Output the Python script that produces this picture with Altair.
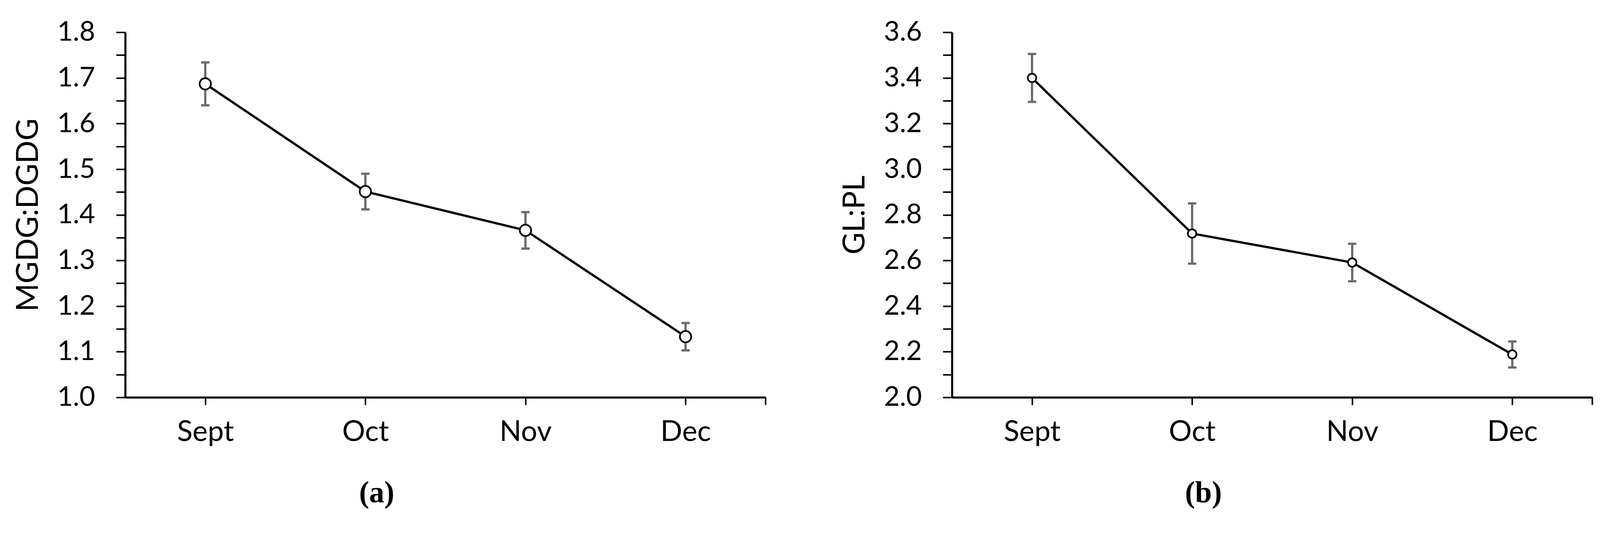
import altair as alt
import pandas as pd

months = ["Sept", "Oct", "Nov", "Dec"]
mgdg_mean = [1.687, 1.451, 1.366, 1.133]
mgdg_err = [0.047, 0.039, 0.040, 0.030]
glpl_mean = [3.400, 2.718, 2.591, 2.188]
glpl_err = [0.105, 0.132, 0.082, 0.057]

mgdg_ticks = [round(1.0 + 0.05 * i, 2) for i in range(17)]
glpl_ticks = [round(2.0 + 0.1 * i, 1) for i in range(17)]

W, H = 1694, 965
GRAY = "#6b6b6b"


def panel(mean, err, ytitle, ydomain, yvalues, label_expr, letter, pt_size):
    df = pd.DataFrame({
        "month": months,
        "mean": mean,
        "lo": [m - e for m, e in zip(mean, err)],
        "hi": [m + e for m, e in zip(mean, err)],
    })
    xenc = alt.X(
        "month:N", sort=months,
        scale=alt.Scale(type="point", padding=0.5),
        axis=alt.Axis(title=None, labelAngle=0, labelFontSize=76, tickSize=20,
                      tickWidth=4, domainWidth=5.5, labelPadding=35, grid=False,
                      labelFont="Lato", labelColor="black", domainColor="black",
                      tickColor="black"),
    )
    yscale = alt.Scale(domain=ydomain, nice=False, zero=False)
    yaxis = alt.Axis(values=yvalues, labelExpr=label_expr, title=ytitle,
                     labelFontSize=72, titleFontSize=80, tickSize=24, tickWidth=4,
                     domainWidth=5.5, labelPadding=56, titlePadding=34,
                     titleFontWeight="normal", grid=False,
                     labelFont="Lato", titleFont="Lato", labelColor="black",
                     titleColor="black", domainColor="black", tickColor="black")

    def y(field):
        return alt.Y(field, type="quantitative", scale=yscale, axis=yaxis)

    base = alt.Chart(df)
    stems = base.mark_rule(color=GRAY, strokeWidth=6).encode(x=xenc, y=y("lo"), y2="hi:Q")
    cap_lo = base.mark_tick(color=GRAY, size=22, thickness=6, opacity=1).encode(x=xenc, y=y("lo"))
    cap_hi = base.mark_tick(color=GRAY, size=22, thickness=6, opacity=1).encode(x=xenc, y=y("hi"))
    line = base.mark_line(color="black", strokeWidth=6).encode(x=xenc, y=y("mean"))
    pts = base.mark_point(shape="circle", filled=False, fill="white", fillOpacity=1,
                          stroke="black", strokeWidth=4.5, size=pt_size, opacity=1).encode(
        x=xenc, y=y("mean"))
    end_tick = alt.Chart(pd.DataFrame({"k": [0]})).mark_rule(
        color="black", strokeWidth=4).encode(
        x=alt.value(W), y=alt.value(H), y2=alt.value(H + 20))
    return alt.layer(stems, cap_lo, cap_hi, line, pts, end_tick).properties(
        width=W, height=H,
        title=alt.TitleParams(text=letter, orient="bottom", anchor="middle",
                              frame="bounds", font="Liberation Serif", fontSize=80,
                              fontWeight="bold", offset=85, dx=-35, color="black"),
    )


left = panel(mgdg_mean, mgdg_err, "MGDG:DGDG", [1.0, 1.8], mgdg_ticks,
             "round(datum.value * 20) % 2 == 0 ? format(datum.value, '.1f') : ''",
             "(a)", 900)
right = panel(glpl_mean, glpl_err, "GL:PL", [2.0, 3.6], glpl_ticks,
              "round(datum.value * 10) % 2 == 0 ? format(datum.value, '.1f') : ''",
              "(b)", 500)

chart = alt.hconcat(left, right, spacing=195).properties(
    padding={"left": 27, "top": 19, "right": 10, "bottom": 10},
    background="white",
).configure_axis(
    labelFont="Lato", titleFont="Lato", labelColor="black", titleColor="black",
    domainColor="black", tickColor="black", grid=False,
).configure_view(stroke=None)

chart.save("out.html", embed_options={"renderer": "svg", "actions": False})
